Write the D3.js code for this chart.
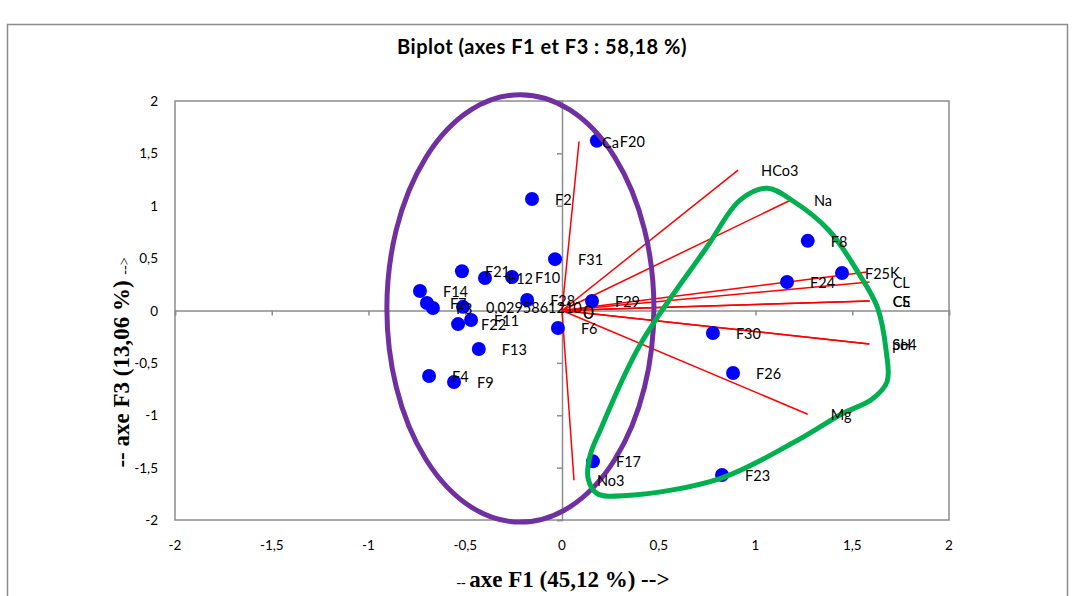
<!DOCTYPE html>
<html>
<head>
<meta charset="utf-8">
<script src="https://cdn.jsdelivr.net/npm/d3@7"></script>
<style>
  html, body { margin: 0; padding: 0; background: #fff; }
  svg { display: block; }
</style>
</head>
<body>
<svg id="chart" width="1072" height="596"></svg>
<script>
// Observations (F1 × F3 scores)
const obsNames = ["F20","F2","F31","F8","F25","F24","F29","F28","F6","F30","F26","F17","F23",
                  "F21","F12","F10","F14","F7","F3","0,0295861210","F22","F11","F13","F4","F9"];
const obsF1 = [0.18,-0.155,-0.036,1.27,1.447,1.163,0.155,-0.18,-0.021,0.78,0.884,0.16,0.827,
               -0.517,-0.398,-0.258,-0.734,-0.698,-0.667,-0.512,-0.537,-0.47,-0.43,-0.687,-0.558];
const obsF3 = [1.62,1.065,0.49,0.665,0.358,0.272,0.09,0.10,-0.167,-0.215,-0.597,-1.44,-1.57,
               0.375,0.31,0.32,0.186,0.072,0.024,0.035,-0.13,-0.09,-0.367,-0.625,-0.683];

// Variables (loadings)
const varNames = ["Ca","HCo3","Na","K","CL","CE","CS","So4","pH","Mg","No3"];
const varF1 = [0.088,0.91,1.183,1.576,1.59,1.59,1.59,1.588,1.588,1.27,0.062];
const varF3 = [1.613,1.34,1.055,0.367,0.272,0.09,0.09,-0.32,-0.32,-0.99,-1.62];

// Axis ticks
const xTicks = [-2,-1.5,-1,-0.5,0,0.5,1,1.5,2];
const yTicks = [-2,-1.5,-1,-0.5,0,0.5,1,1.5,2];

// Group outlines (in axis units)
const groupA = { cx: -0.215, cy: 0.02, rx: 0.69, ry: 2.04 };
const groupBx = [1.06,1.19,1.38,1.54,1.63,1.675,1.68,1.6,1.45,1.215,0.817,0.336,0.181,0.135,0.145,0.197,0.403,0.749,0.92];
const groupBy = [1.168,1.05,0.764,0.334,0.029,-0.382,-0.68,-0.85,-0.983,-1.241,-1.604,-1.766,-1.747,-1.604,-1.385,-1.145,-0.329,0.606,1.054];

const svg = d3.select("#chart");
const fmt = v => String(v).replace(".", ",");

// outer frame
svg.append("rect").attr("x", 7.5).attr("y", 24.5).attr("width", 1060).attr("height", 620)
  .attr("fill", "none").attr("stroke", "#8c8c8c").attr("stroke-width", 1.5);

// title
svg.append("text").attr("x", 542).attr("y", 54).attr("text-anchor", "middle")
  .style("font-family", "Lato, 'Open Sans', sans-serif").style("font-weight", "bold")
  .style("font-size", "20px").style("letter-spacing", "0.5px")
  .text("Biplot (axes F1 et F3 : 58,18 %)");

const plotL = 175, plotR = 949, plotT = 101, plotB = 520;
const x = d3.scaleLinear().domain([-2, 2]).range([plotL, plotR]);
const y = d3.scaleLinear().domain([-2, 2]).range([plotB, plotT]);

// plot area border
svg.append("rect").attr("x", plotL).attr("y", plotT).attr("width", plotR - plotL).attr("height", plotB - plotT)
  .attr("fill", "none").attr("stroke", "#8c8c8c").attr("stroke-width", 1.5);

// zero axes with ticks
const xAxis = d3.axisBottom(x).tickValues(xTicks).tickSize(5).tickFormat("");
const yAxis = d3.axisLeft(y).tickValues(yTicks).tickSize(5).tickFormat("");
const gx = svg.append("g").attr("transform", `translate(0,${y(0)})`).call(xAxis);
const gy = svg.append("g").attr("transform", `translate(${x(0)},0)`).call(yAxis);
[gx, gy].forEach(g => {
  g.selectAll("path, line").attr("stroke", "#8c8c8c").attr("stroke-width", 1.5);
});

// tick labels along the plot edges
const tickFont = "Lato, 'Open Sans', sans-serif";
svg.append("g").selectAll("text").data(xTicks).join("text")
  .attr("x", d => x(d)).attr("y", 550).attr("text-anchor", "middle")
  .style("font-family", tickFont).style("font-size", "13.5px").text(fmt);
svg.append("g").selectAll("text").data(yTicks).join("text")
  .attr("x", 158).attr("y", d => y(d) + 5).attr("text-anchor", "end")
  .style("font-family", tickFont).style("font-size", "13.5px").text(fmt);

// axis titles
const serif = "'Liberation Serif', 'Times New Roman', serif";
const xt = svg.append("text").attr("x", 563).attr("y", 587).attr("text-anchor", "middle")
  .style("font-family", serif).style("font-weight", "bold").style("font-size", "23px");
xt.append("tspan").style("font-size", "14px").style("font-weight", "normal").text("-- ");
xt.append("tspan").text("axe F1 (45,12 %) -->");

const yt = svg.append("text").attr("transform", `translate(129,${y(0) + 52}) rotate(-90)`)
  .attr("text-anchor", "middle")
  .style("font-family", serif).style("font-weight", "bold").style("font-size", "23px");
yt.append("tspan").text("-- axe F3 (13,06 %)  ");
yt.append("tspan").style("font-size", "14px").style("font-weight", "normal").text("-->");

// variable vectors
const vars = varNames.map((n, i) => ({ n, a: varF1[i], b: varF3[i] }));
svg.append("g").selectAll("line").data(vars).join("line")
  .attr("x1", x(0)).attr("y1", y(0))
  .attr("x2", d => x(d.a)).attr("y2", d => y(d.b))
  .attr("stroke", "#ff0000").attr("stroke-width", 1.5);

// observations
const obs = obsNames.map((n, i) => ({ n, a: obsF1[i], b: obsF3[i] }));
svg.append("g").selectAll("circle").data(obs).join("circle")
  .attr("cx", d => x(d.a)).attr("cy", d => y(d.b)).attr("r", 7)
  .attr("fill", "#0000ff");

// group outlines
svg.append("ellipse")
  .attr("cx", x(groupA.cx)).attr("cy", y(groupA.cy))
  .attr("rx", x(groupA.rx) - x(0)).attr("ry", y(0) - y(groupA.ry))
  .attr("fill", "none").attr("stroke", "#7030a0").attr("stroke-width", 5);

const outline = d3.line().x(d => x(d[0])).y(d => y(d[1])).curve(d3.curveCatmullRomClosed.alpha(0.5));
svg.append("path").datum(groupBx.map((v, i) => [v, groupBy[i]]))
  .attr("d", outline).attr("fill", "none").attr("stroke", "#00b050").attr("stroke-width", 5);

// labels
const labFont = "Lato, 'Open Sans', sans-serif";
svg.append("g").selectAll("text").data(obs).join("text")
  .attr("x", d => x(d.a) + 23).attr("y", d => y(d.b) + 6)
  .style("font-family", labFont).style("font-size", "14.5px").text(d => d.n);
svg.append("g").selectAll("text").data(vars).join("text")
  .attr("x", d => x(d.a) + 23).attr("y", d => y(d.b) + 6)
  .style("font-family", labFont).style("font-size", "14.5px").text(d => d.n);
svg.append("text").attr("x", x(0) + 21).attr("y", y(0) + 8)
  .style("font-family", labFont).style("font-size", "19px").text("0");
</script>
</body>
</html>
